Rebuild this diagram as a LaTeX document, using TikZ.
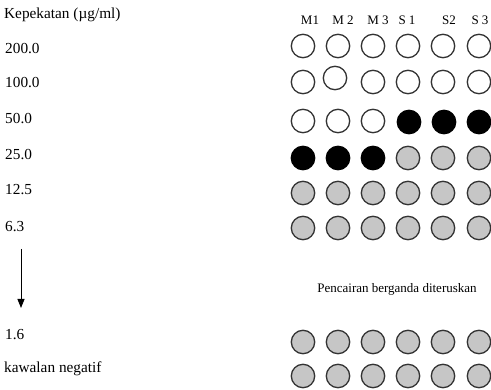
\documentclass[tikz,border=0pt]{standalone}
\usepackage{fontspec}
\setmainfont{Liberation Serif}
\usetikzlibrary{arrows.meta}

\definecolor{wellgray}{HTML}{C6C6C6}
\definecolor{rimcol}{HTML}{333333}

\tikzset{
  well/.style={circle, draw=rimcol, line width=1.3pt, minimum size=23.4pt, inner sep=0pt},
  clear/.style={well, fill=white},
  dark/.style={well, fill=black, draw=black},
  grey/.style={well, fill=wellgray},
  rowlabel/.style={anchor=base west, inner sep=0pt, font=\fontsize{15.3}{18}\selectfont},
  collabel/.style={anchor=base, inner sep=0pt, font=\fontsize{13}{16}\selectfont},
  note/.style={anchor=base, inner sep=0pt, font=\fontsize{13}{16}\selectfont},
}

\begin{document}
\begin{tikzpicture}[x=1pt, y=-1pt]
\useasboundingbox (0,0) rectangle (491,390);

% concentration labels
\node[rowlabel] (head) at (4,19) {Kepekatan (µg/ml)};
\node[rowlabel] (r1) at (5,54) {200.0};
\node[rowlabel] (r2) at (5,88) {100.0};
\node[rowlabel] (r3) at (5,124) {50.0};
\node[rowlabel] (r4) at (5,160) {25.0};
\node[rowlabel] (r5) at (5,195) {12.5};
\node[rowlabel] (r6) at (5,232) {6.3};
\node[rowlabel] (r7) at (5,340) {1.6};
\node[rowlabel] (r8) at (4,373) {kawalan negatif};

% dilution arrow
\coordinate (arrTop) at (21,249);
\coordinate (arrTip) at (21,308);
\draw[line width=0.9pt, -{Triangle[length=9pt,width=7pt]}] (arrTop) -- (arrTip);

% column labels
\node[collabel] (hM1) at (310,25) {M1};
\node[collabel] (hM2) at (343,25) {M 2};
\node[collabel] (hM3) at (378,25) {M 3};
\node[collabel] (hS1) at (407,25) {S 1};
\node[collabel] (hS2) at (449,25) {S2};
\node[collabel] (hS3) at (480,25) {S 3};

% wells: row 200.0
\foreach \x [count=\i] in {303,338,373,408,443,479}
  \node[clear] (w1-\i) at (\x,46) {};
% row 100.0
\node[clear] (w2-1) at (303,82) {};
\node[clear] (w2-2) at (335,78) {};
\foreach \x [count=\i from 3] in {373,408,443,479}
  \node[clear] (w2-\i) at (\x,82) {};
% row 50.0
\foreach \x [count=\i] in {303,338,373}
  \node[clear] (w3-\i) at (\x,121) {};
\foreach \x [count=\i from 4] in {409,444,479}
  \node[dark] (w3-\i) at (\x,122) {};
% row 25.0
\foreach \x [count=\i] in {303,338,373}
  \node[dark] (w4-\i) at (\x,158) {};
\foreach \x [count=\i from 4] in {408,443,479}
  \node[grey] (w4-\i) at (\x,158) {};
% rows 12.5 and 6.3
\foreach \x [count=\i] in {303,338,373,408,443,479} {
  \node[grey] (w5-\i) at (\x,193) {};
  \node[grey] (w6-\i) at (\x,228) {};
}
% rows 1.6 and negative control
\foreach \x [count=\i] in {303,338,373,408,443,479} {
  \node[grey] (w7-\i) at (\x,342) {};
  \node[grey] (w8-\i) at (\x,376) {};
}

\node[note] (cont) at (397,293) {Pencairan berganda diteruskan};
\end{tikzpicture}
\end{document}
